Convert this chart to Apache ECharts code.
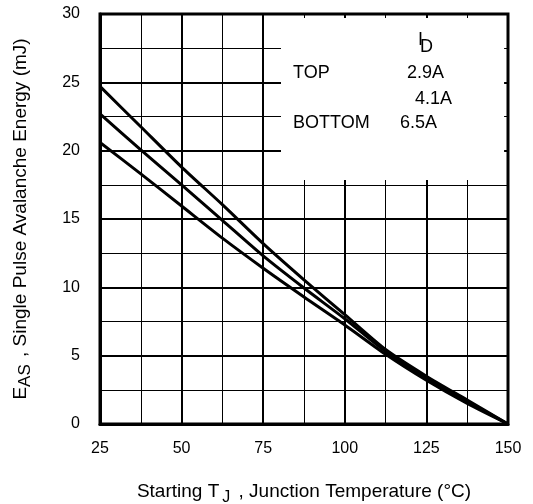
<!DOCTYPE html>
<html>
<head>
<meta charset="utf-8">
<script src="https://cdn.jsdelivr.net/npm/echarts@6/dist/echarts.min.js"></script>
<style>
  html, body { margin: 0; padding: 0; background: #fff; }
  #chart { width: 533px; height: 504px; }
</style>
</head>
<body>
<div id="chart"></div>
<script>
// Starting Tj (°C)
const temps = [25, 37.5, 50, 62.5, 75, 87.5, 100, 112.5, 125, 137.5, 150]
// EAS (mJ) per drain current
const eas29 = [24.7, 21.75, 18.8, 16.05, 13.2, 10.55, 8.0, 5.45, 3.5, 1.75, 0]
const eas41 = [22.7, 20.05, 17.5, 14.9, 12.3, 9.95, 7.7, 5.3, 3.35, 1.65, 0]
const eas65 = [20.6, 18.3, 15.95, 13.6, 11.4, 9.3, 7.25, 5.1, 3.2, 1.5, 0]
const xTicks = [25, 50, 75, 100, 125, 150]
const yTicks = [0, 5, 10, 15, 20, 25, 30]

const font = 'Liberation Sans, Arial, Helvetica, sans-serif'
const chart = echarts.init(document.getElementById('chart'))

const pair = (ys) => temps.map((t, i) => [t, ys[i]])

const lineSeries = (name, ys) => ({
  name,
  type: 'line',
  data: pair(ys),
  smooth: 0.25,
  symbol: 'none',
  lineStyle: { color: '#000', width: 3 },
  z: 3
})

// legend text inside the white box
const legendText = (text, left, top, size) => ({
  type: 'text', left, top, z: 20,
  style: { text, font: (size || 18) + 'px ' + font, fill: '#000' }
})

const option = {
  animation: false,
  backgroundColor: '#fff',
  grid: {
    left: 100, right: 25, top: 14, bottom: 80,
    outerBoundsMode: 'none',
    show: true, borderColor: '#000', borderWidth: 3
  },
  xAxis: {
    type: 'value',
    min: 25, max: 150, interval: 25,
    name: '{n|Starting T}{s|J}{n| , Junction Temperature (°C)}',
    nameLocation: 'middle',
    nameGap: 54,
    nameTextStyle: {
      rich: {
        n: { fontFamily: font, fontSize: 19, color: '#000' },
        s: { fontFamily: font, fontSize: 16, color: '#000', padding: [12, 3, 0, 3] }
      }
    },
    axisLine: { show: true, lineStyle: { color: '#000', width: 3 } },
    axisTick: { show: false },
    axisLabel: {
      margin: 17, fontFamily: font, fontSize: 16, color: '#000',
      formatter: (v) => xTicks.includes(v) ? String(v) : ''
    },
    splitLine: { show: true, lineStyle: { color: '#000', width: 2 } },
    minorTick: { show: false, splitNumber: 2 },
    minorSplitLine: { show: true, lineStyle: { color: '#000', width: 1 } }
  },
  yAxis: {
    type: 'value',
    min: 0, max: 30, interval: 5,
    name: '{n|E}{s|AS}{n| , Single Pulse Avalanche Energy (mJ)}',
    nameLocation: 'middle',
    nameGap: 66,
    nameRotate: 90,
    nameTextStyle: {
      rich: {
        n: { fontFamily: font, fontSize: 19, color: '#000' },
        s: { fontFamily: font, fontSize: 17, color: '#000', padding: [10, 2, 0, 0] }
      }
    },
    axisLine: { show: true, lineStyle: { color: '#000', width: 3 } },
    axisTick: { show: false },
    axisLabel: {
      margin: 20, fontFamily: font, fontSize: 16, color: '#000',
      formatter: (v) => yTicks.includes(v) ? String(v) : ''
    },
    splitLine: { show: true, lineStyle: { color: '#000', width: 2 } },
    minorTick: { show: false, splitNumber: 2 },
    minorSplitLine: { show: true, lineStyle: { color: '#000', width: 1 } }
  },
  series: [
    {
      type: 'line',
      data: [],
      silent: true,
      markArea: {
        silent: true,
        itemStyle: { color: '#fff' },
        data: [[{ coord: [80.45, 29.7] }, { coord: [148.8, 17.85] }]]
      },
      z: 2
    },
    lineSeries('2.9A', eas29),
    lineSeries('4.1A', eas41),
    lineSeries('6.5A', eas65)
  ],
  graphic: [
    legendText('I', 418, 31),
    legendText('D', 420, 38),
    legendText('TOP', 293, 64),
    legendText('2.9A', 407, 64),
    legendText('4.1A', 415, 90),
    legendText('BOTTOM', 293, 114),
    legendText('6.5A', 400, 114)
  ]
}

chart.setOption(option)
</script>
</body>
</html>
